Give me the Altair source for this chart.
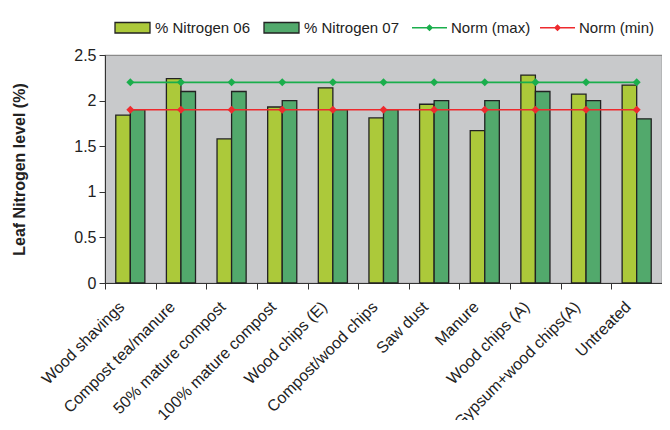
import altair as alt
import pandas as pd

categories = ["Wood shavings", "Compost tea/manure", "50% mature compost",
              "100% mature compost", "Wood chips (E)", "Compost/wood chips",
              "Saw dust", "Manure", "Wood chips (A)", "Gypsum+wood chips(A)",
              "Untreated"]
nitrogen_06 = [1.84, 2.24, 1.58, 1.93, 2.14, 1.81, 1.96, 1.67, 2.28, 2.07, 2.17]
nitrogen_07 = [1.90, 2.10, 2.10, 2.00, 1.90, 1.90, 2.00, 2.00, 2.10, 2.00, 1.80]
norm_max = [2.2] * 11
norm_min = [1.9] * 11

bar_series = ["% Nitrogen 06", "% Nitrogen 07"]
line_series = ["Norm (max)", "Norm (min)"]

bars = pd.DataFrame(
    [{"cat": c, "series": bar_series[0], "value": v} for c, v in zip(categories, nitrogen_06)]
    + [{"cat": c, "series": bar_series[1], "value": v} for c, v in zip(categories, nitrogen_07)]
)
lines = pd.DataFrame(
    [{"cat": c, "series": line_series[0], "value": v} for c, v in zip(categories, norm_max)]
    + [{"cat": c, "series": line_series[1], "value": v} for c, v in zip(categories, norm_min)]
)

FONT = "Liberation Sans"

x_enc = alt.X(
    "cat:N", sort=categories, title=None,
    scale=alt.Scale(paddingInner=0, paddingOuter=0),
    axis=alt.Axis(labelAngle=-45, labelAlign="right", labelBaseline="middle",
                  labelFontSize=16, labelPadding=15, labelOffset=-9,
                  tickBand="extent", tickSize=6, tickColor="#333",
                  domainColor="#333", labelColor="#222", labelFont=FONT,
                  labelOverlap=False, labelLimit=300),
)
y_enc = alt.Y(
    "value:Q", title="Leaf Nitrogen level (%)",
    scale=alt.Scale(domain=[0, 2.5], nice=False),
    axis=alt.Axis(values=[0, 0.5, 1, 1.5, 2, 2.5], format="~g", grid=False,
                  labelFontSize=16, labelFont=FONT, labelColor="#222",
                  titleFontSize=16, titleFont=FONT, titleFontWeight="bold",
                  titleColor="#222", titlePadding=46, tickSize=6,
                  tickColor="#333", domainColor="#333", labelPadding=3),
)

bar_layer = alt.Chart(bars).mark_bar(stroke="#222", strokeWidth=1.3).encode(
    x=x_enc,
    y=y_enc,
    xOffset=alt.XOffset("series:N", sort=bar_series,
                        scale=alt.Scale(paddingInner=0, paddingOuter=0.74)),
    fill=alt.Fill("series:N", sort=bar_series,
                  scale=alt.Scale(domain=bar_series, range=["#acc93a", "#52a96c"]),
                  legend=alt.Legend(
                      title=None, orient="none", legendX=9, legendY=-46,
                      direction="horizontal",
                      symbolType="M-1,-0.3L1,-0.3L1,0.3L-1,0.3Z",
                      symbolSize=1225, symbolStrokeColor="#222",
                      symbolStrokeWidth=1.3, labelFontSize=15, labelFont=FONT,
                      labelColor="#222", labelOffset=4, columnPadding=10)),
)

color_scale = alt.Scale(domain=line_series, range=["#1aae4c", "#ee2a2e"])

line_layer = alt.Chart(lines).mark_line(strokeWidth=1.6).encode(
    x=alt.X("cat:N", sort=categories),
    y="value:Q",
    color=alt.Color("series:N", sort=line_series, scale=color_scale,
                    legend=alt.Legend(
                        title=None, orient="none", legendX=306, legendY=-46,
                        direction="horizontal",
                        symbolType="M-1,0L1,0M-0.14,0L0,-0.14L0.14,0L0,0.14Z",
                        symbolSize=1225, symbolStrokeWidth=1.6,
                        labelFontSize=15, labelFont=FONT, labelColor="#222",
                        labelOffset=3, columnPadding=5)),
)

point_layer = alt.Chart(lines).mark_point(shape="diamond", filled=True, size=64, opacity=1).encode(
    x=alt.X("cat:N", sort=categories),
    y="value:Q",
    color=alt.Color("series:N", sort=line_series, scale=color_scale, legend=None),
)

chart = alt.layer(bar_layer, line_layer, point_layer).properties(
    width=557, height=228,
    autosize=alt.AutoSizeParams(type="none"),
    padding={"left": 97, "top": 47, "right": 0, "bottom": 137},
    background="white",
).configure_view(fill="#c8c9cb", stroke="#8a8a8a", strokeWidth=1.2)

chart.save("out.html", embed_options={"renderer": "svg", "actions": False})
